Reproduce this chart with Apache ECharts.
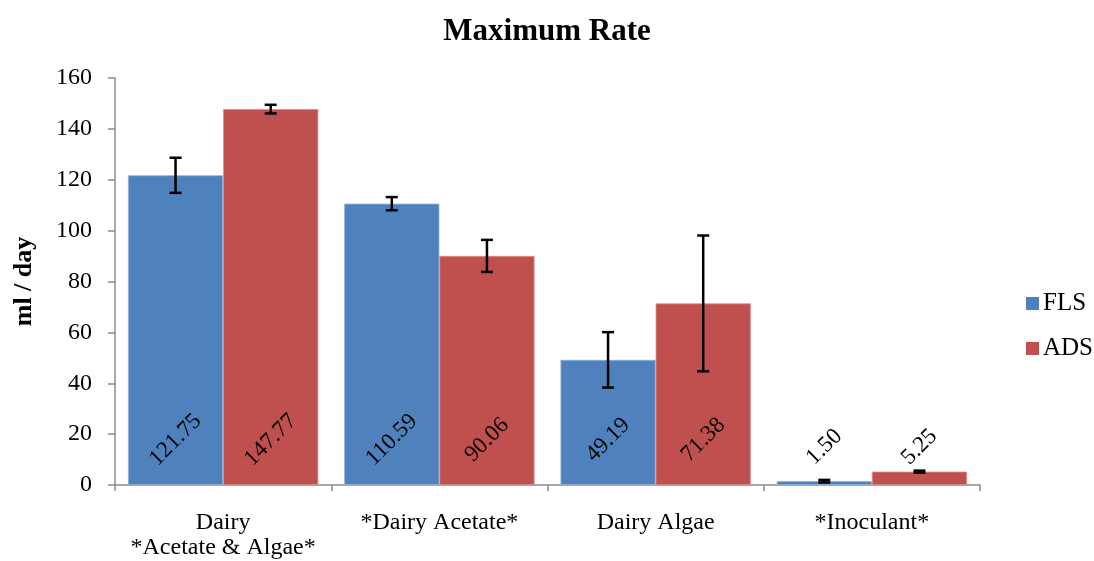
<!DOCTYPE html>
<html>
<head>
<meta charset="utf-8">
<script src="https://cdn.jsdelivr.net/npm/echarts@6/dist/echarts.min.js"></script>
<style>
html,body{margin:0;padding:0;background:#fff;}
#chart{width:1094px;height:561px;}
</style>
</head>
<body>
<div id="chart"></div>
<script>
const categories = ['Dairy\n*Acetate & Algae*', '*Dairy Acetate*', 'Dairy Algae', '*Inoculant*'];
const seriesNames = ['FLS', 'ADS'];
const flsValues = [121.75, 110.59, 49.19, 1.50];
const adsValues = [147.77, 90.06, 71.38, 5.25];
const flsErrors = [6.9, 2.6, 10.9, 0.5];
const adsErrors = [1.7, 6.3, 26.7, 0.4];
const yTicks = [0, 20, 40, 60, 80, 100, 120, 140, 160];

const FONT = '"Liberation Serif", "Times New Roman", serif';
const colors = ['#4F81BD', '#C0504D'];
const catGapRatio = 0.12;

function labelFor(values) {
  return values.map((v, i) => ({
    value: v,
    label: { distance: i === 3 ? 38 : 45 }
  }));
}

function errorSeries(values, errors, sideIdx) {
  const data = values.map((v, i) => [i, v, errors[i]]);
  return {
    type: 'custom',
    name: seriesNames[sideIdx] + ' err',
    z: 10,
    silent: true,
    data: data,
    renderItem: function (params, api) {
      const idx = api.value(0);
      const val = api.value(1);
      const err = api.value(2);
      const band = api.size([1, 0])[0];
      const barW = band * (1 - catGapRatio) / 2;
      const center = api.coord([idx, val]);
      const cx = center[0] + (sideIdx === 0 ? -barW / 2 : barW / 2);
      const top = api.coord([idx, val + err])[1];
      const bot = api.coord([idx, val - err])[1];
      const cap = 6;
      const style = { stroke: '#000', lineWidth: 2.5, fill: 'none' };
      return {
        type: 'group',
        children: [
          { type: 'line', shape: { x1: cx, y1: top, x2: cx, y2: bot }, style: style },
          { type: 'line', shape: { x1: cx - cap, y1: top, x2: cx + cap, y2: top }, style: style },
          { type: 'line', shape: { x1: cx - cap, y1: bot, x2: cx + cap, y2: bot }, style: style }
        ]
      };
    }
  };
}

const barLabel = {
  show: true,
  position: 'insideBottom',
  rotate: 45,
  align: 'center',
  verticalAlign: 'middle',
  color: '#000',
  fontFamily: FONT,
  fontSize: 23,
  formatter: p => p.value.toFixed(2)
};

const chart = echarts.init(document.getElementById('chart'), null, { renderer: 'canvas' });
chart.setOption({
  animation: false,
  backgroundColor: '#fff',
  title: {
    text: 'Maximum Rate',
    left: 'center',
    top: 11,
    textStyle: { fontFamily: FONT, fontSize: 31, fontWeight: 'bold', color: '#000' }
  },
  legend: {
    orient: 'vertical',
    left: 1021,
    top: 286,
    itemWidth: 13,
    itemHeight: 13,
    itemGap: 20,
    icon: 'rect',
    data: seriesNames,
    itemStyle: { borderWidth: 0 },
    textStyle: { fontFamily: FONT, fontSize: 25, color: '#000', padding: [0, 0, 0, -1] }
  },
  grid: { left: 115, right: 114, top: 78, bottom: 76 },
  xAxis: {
    type: 'category',
    data: categories,
    axisLine: { lineStyle: { color: '#8c8c8c', width: 1.5 } },
    axisTick: { show: true, interval: 0, length: 6, alignWithLabel: false, lineStyle: { color: '#8c8c8c', width: 1.5 } },
    axisLabel: { interval: 0, fontFamily: FONT, fontSize: 24, color: '#000', margin: 25, lineHeight: 25 }
  },
  yAxis: {
    type: 'value',
    min: yTicks[0],
    max: yTicks[yTicks.length - 1],
    interval: 20,
    name: 'ml / day',
    nameLocation: 'middle',
    nameGap: 78,
    nameTextStyle: { fontFamily: FONT, fontSize: 26, fontWeight: 'bold', color: '#000' },
    axisLine: { show: true, lineStyle: { color: '#8c8c8c', width: 1.5 } },
    axisTick: { show: true, length: 7, lineStyle: { color: '#8c8c8c', width: 1.5 } },
    splitLine: { show: false },
    axisLabel: { fontFamily: FONT, fontSize: 24, color: '#000', margin: 23 }
  },
  series: [
    {
      name: seriesNames[0],
      type: 'bar',
      data: labelFor(flsValues),
      barGap: '0%',
      barCategoryGap: (catGapRatio * 100) + '%',
      itemStyle: { color: colors[0], borderColor: '#8fb0d9', borderWidth: 0.8 },
      label: barLabel
    },
    {
      name: seriesNames[1],
      type: 'bar',
      data: labelFor(adsValues),
      barGap: '0%',
      barCategoryGap: (catGapRatio * 100) + '%',
      itemStyle: { color: colors[1], borderColor: '#dc8c8a', borderWidth: 0.8 },
      label: barLabel
    },
    errorSeries(flsValues, flsErrors, 0),
    errorSeries(adsValues, adsErrors, 1)
  ]
});
</script>
</body>
</html>
